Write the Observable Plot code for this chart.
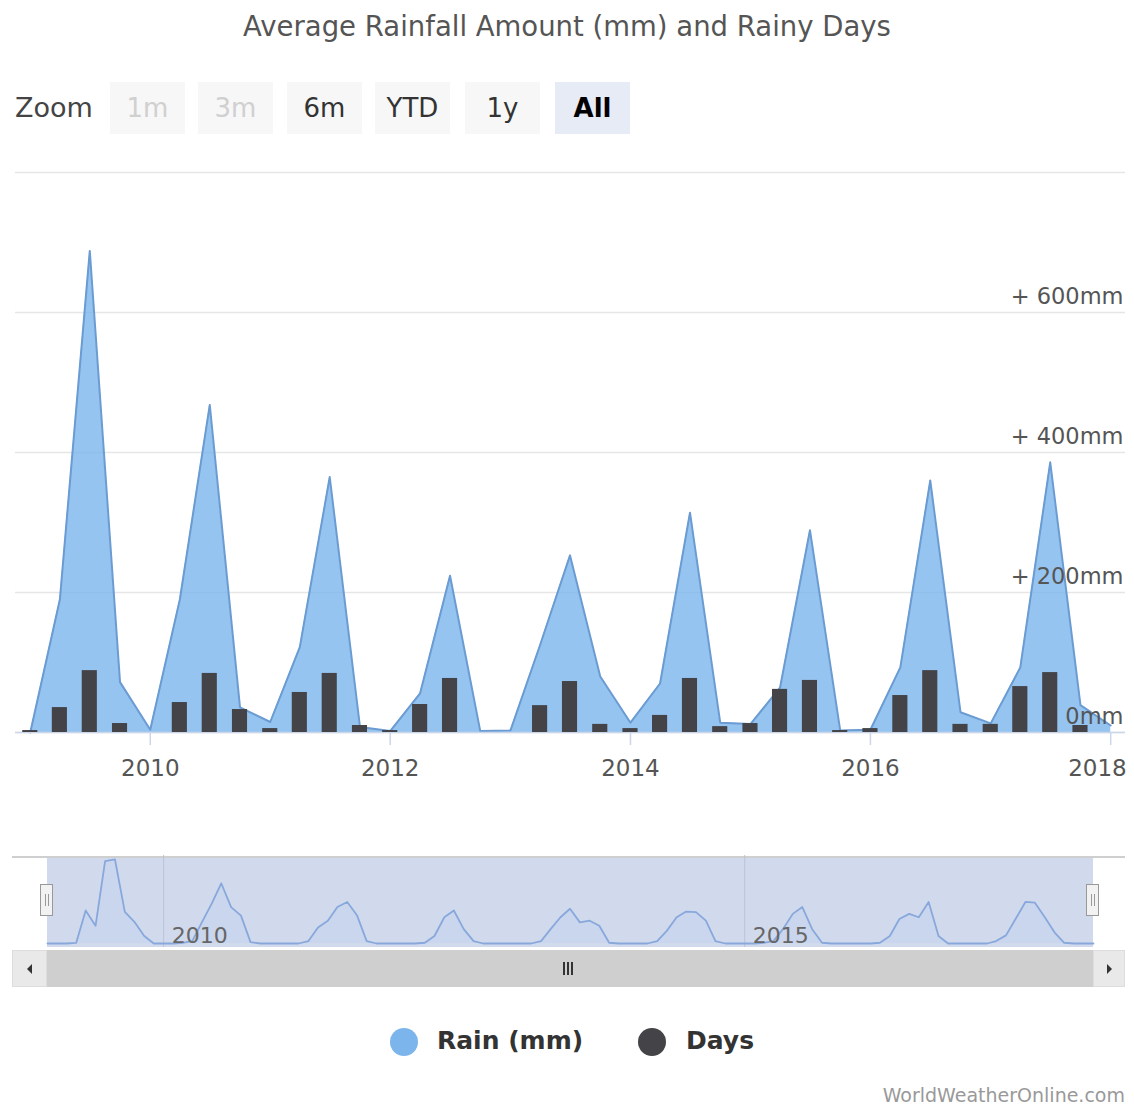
<!DOCTYPE html>
<html>
<head>
<meta charset="utf-8">
<script src="https://cdn.jsdelivr.net/npm/d3@7"></script>
<script src="https://cdn.jsdelivr.net/npm/@observablehq/plot@0.6"></script>
<style>
  html, body { margin: 0; padding: 0; background: #fff; }
  body { font-family: "DejaVu Sans", sans-serif; }
  #root { position: relative; width: 1134px; height: 1108px; overflow: hidden; background: #fff; }
  .abs { position: absolute; }
  #title { left: 0; width: 1134px; top: 10px; text-align: center; font-size: 27.5px; color: #555; white-space: nowrap; }
  #zoomLabel { left: 15px; top: 92px; font-size: 27px; color: #444; }
  .btn { top: 82px; width: 75px; height: 52px; line-height: 52px; text-align: center; font-size: 26px; background: #f7f7f7; color: #333; }
  .btn.disabled { color: #d0d0d0; }
  .btn.active { background: #e6ebf5; color: #000; font-weight: bold; }
  .legend-dot { width: 28px; height: 28px; border-radius: 50%; }
  .legend-text { font-size: 25px; font-weight: bold; color: #333; top: 1026px; }
  #credit { right: 9px; top: 1084px; font-size: 19px; color: #999; }
  svg { position: absolute; }
</style>
</head>
<body>
<div id="root"></div>
<script>
// ---------------- data ----------------
const quarters = [
  "2009-01-01","2009-04-01","2009-07-01","2009-10-01",
  "2010-01-01","2010-04-01","2010-07-01","2010-10-01",
  "2011-01-01","2011-04-01","2011-07-01","2011-10-01",
  "2012-01-01","2012-04-01","2012-07-01","2012-10-01",
  "2013-01-01","2013-04-01","2013-07-01","2013-10-01",
  "2014-01-01","2014-04-01","2014-07-01","2014-10-01",
  "2015-01-01","2015-04-01","2015-07-01","2015-10-01",
  "2016-01-01","2016-04-01","2016-07-01","2016-10-01",
  "2017-01-01","2017-04-01","2017-07-01","2017-10-01",
  "2018-01-01"
];
const rainMm = [
  0, 190, 688, 72,
  4, 190, 468, 36,
  15, 122, 365, 8,
  2, 56, 224, 2,
  3, 125, 253, 80,
  14, 70, 314, 14,
  12, 64, 289, 3,
  4, 93, 360, 29,
  13, 93, 386, 39,
  10
];
const rainyDays = [
  0.7, 8.9, 22.1, 3.2,
  0, 10.7, 21.1, 8.2,
  1.4, 14.3, 21.1, 2.5,
  0.7, 10.0, 19.3, 0,
  0, 9.6, 18.2, 2.9,
  1.4, 6.1, 19.3, 2.1,
  3.2, 15.4, 18.6, 0.7,
  1.4, 13.2, 22.1, 2.9,
  2.9, 16.4, 21.4, 2.5,
  0
];
// navigator: monthly series from Jan 2009 to Jan 2018
const navStartMonth = "2009-01-01";
const navRainMm = [
  0, 0, 0, 5, 272, 146, 678, 692, 260, 179, 62, 0,
  0, 0, 6, 20, 174, 328, 496, 300, 230, 11, 0, 0,
  0, 0, 0, 20, 132, 188, 300, 342, 230, 20, 0, 0,
  0, 0, 0, 6, 62, 216, 272, 118, 20, 0, 0, 0,
  0, 0, 0, 20, 118, 216, 286, 174, 188, 146, 6, 0,
  0, 0, 0, 20, 104, 216, 263, 258, 188, 20, 0, 0,
  0, 0, 6, 20, 118, 244, 300, 118, 6, 0, 0, 0,
  0, 0, 6, 62, 202, 244, 216, 342, 62, 0, 0, 0,
  0, 0, 20, 67, 202, 342, 336, 216, 90, 6, 0, 0,
  0
];
const yTickValues = [0, 200, 400, 600];
const yTickLabels = ["0mm", "+ 200mm", "+ 400mm", "+ 600mm"];
const yGridValues = [0, 200, 400, 600, 800];
const xTickYears = [2010, 2012, 2014, 2016, 2018];
const navTickYears = [2010, 2015];
const zoomButtons = ["1m", "3m", "6m", "YTD", "1y", "All"];
const zoomButtonState = ["disabled", "disabled", "", "", "", "active"];
const legendNames = ["Rain (mm)", "Days"];
const legendColors = ["#7cb5ec", "#434348"];
const titleText = "Average Rainfall Amount (mm) and Rainy Days";
const creditText = "WorldWeatherOnline.com";

// ---------------- build ----------------
const root = document.getElementById("root");
const mainData = quarters.map((q, i) => ({date: new Date(q), rain: rainMm[i], days: rainyDays[i]}));
const navStart = new Date(navStartMonth);
const navData = navRainMm.map((v, i) => ({date: d3.utcMonth.offset(navStart, i), rain: v}));
const xDomain = [new Date("2008-11-17"), new Date("2018-02-15")];
const fontFamily = '"DejaVu Sans", sans-serif';
const yearDate = y => new Date(Date.UTC(y, 0, 1));
const xTickDates = xTickYears.map(yearDate);

function addDiv(cls, css, text) {
  const d = document.createElement("div");
  d.className = "abs " + (cls || "");
  Object.assign(d.style, css || {});
  if (text != null) d.textContent = text;
  root.appendChild(d);
  return d;
}

// title + zoom buttons
addDiv("", {}, titleText).id = "title";
addDiv("", {}, "Zoom").id = "zoomLabel";
const btnLefts = [110, 198, 287, 375, 465, 555];
zoomButtons.forEach((b, i) => addDiv("btn " + zoomButtonState[i], {left: btnLefts[i] + "px"}, b));

// main chart
const W = 1134, H = 650, TOP = 150;
const common = {
  width: W, height: H, marginTop: 22, marginBottom: 68, marginLeft: 15, marginRight: 9,
  style: {fontFamily, background: "transparent", overflow: "visible"}
};
const labelStyle = {frameAnchor: "bottom", lineAnchor: "top", dy: 27, fill: "#555", fontSize: 23};
const mainPlot = Plot.plot({
  ...common,
  y: {domain: [0, 800], axis: null},
  x: {type: "utc", domain: xDomain, axis: null},
  marks: [
    Plot.gridY(yGridValues, {stroke: "#e6e6e6", strokeOpacity: 1, strokeWidth: 1.5}),
    Plot.areaY(mainData, {x: "date", y: "rain", fill: "#7cb5ec", fillOpacity: 0.8}),
    Plot.lineY(mainData, {x: "date", y: "rain", stroke: "#6a9bd2", strokeWidth: 2}),
    Plot.ruleY([0], {stroke: "#ccd6eb", strokeWidth: 1.5}),
    Plot.ruleX(xTickDates, {x: d => d, y1: 0, y2: 0, insetBottom: -13, stroke: "#ccd6eb", strokeWidth: 1.5}),
    Plot.text(xTickDates.slice(0, -1), {x: d => d, text: d => d3.utcFormat("%Y")(d), ...labelStyle}),
    Plot.text(xTickDates.slice(-1), {x: d => d, text: d => d3.utcFormat("%Y")(d), textAnchor: "end", dx: 16, ...labelStyle}),
    Plot.text(yTickValues, {
      y: d => d, frameAnchor: "right", text: (d, i) => yTickLabels[i],
      textAnchor: "end", dy: -16, dx: -2, fill: "#555", fontSize: 22.5
    })
  ]
});
mainPlot.style.left = "0px"; mainPlot.style.top = TOP + "px";
root.appendChild(mainPlot);

const daysPlot = Plot.plot({
  ...common,
  y: {domain: [0, 200], axis: null},
  x: {type: "utc", domain: xDomain, axis: null},
  marks: [
    Plot.rectY(mainData, {
      x1: d => d3.utcDay.offset(d.date, -23), x2: d => d3.utcDay.offset(d.date, 23),
      y: "days", fill: "#434348"
    })
  ]
});
daysPlot.style.left = "0px"; daysPlot.style.top = TOP + "px";
root.appendChild(daysPlot);

// navigator
addDiv("", {left: "12px", width: "1113px", top: "856px", height: "0px", borderTop: "2px solid #cfcfcf"});
addDiv("", {left: "47px", width: "1046px", top: "858px", height: "89px", background: "#d1daed"});
const navTickDates = navTickYears.map(yearDate);
const navPlot = Plot.plot({
  width: W, height: 92, marginTop: 3, marginBottom: 4, marginLeft: 47, marginRight: 41,
  x: {type: "utc", domain: [navData[0].date, navData[navData.length - 1].date], axis: null},
  y: {domain: [0, 700], axis: null},
  style: {fontFamily, background: "transparent", overflow: "visible"},
  marks: [
    Plot.ruleX(navTickDates, {stroke: "#b9c2d6", strokeWidth: 1, insetTop: -3, insetBottom: -4}),
    Plot.areaY(navData, {x: "date", y: "rain", fill: "#7cb5ec", fillOpacity: 0.08}),
    Plot.lineY(navData, {x: "date", y: "rain", stroke: "#88a8dc", strokeWidth: 1.8}),
    Plot.text(navTickDates, {
      x: d => d, frameAnchor: "bottom", text: d => String(d.getUTCFullYear()),
      textAnchor: "start", lineAnchor: "bottom", dx: 8, dy: -1, fill: "#666", fontSize: 22
    })
  ]
});
navPlot.style.left = "0px"; navPlot.style.top = "855px";
root.appendChild(navPlot);

// navigator handles
[47, 1093].forEach(cx => {
  const h = addDiv("", {left: (cx - 7) + "px", top: "884px", width: "13px", height: "32px",
    background: "#f2f2f2", border: "1px solid #999", boxSizing: "border-box"});
  [4, 7].forEach(lx => {
    const l = document.createElement("div");
    Object.assign(l.style, {position: "absolute", left: lx + "px", top: "9px", width: "1px", height: "12px", background: "#999"});
    h.appendChild(l);
  });
});

// scrollbar
addDiv("", {left: "12px", width: "1113px", top: "950px", height: "37px", background: "#f2f2f2"});
addDiv("", {left: "12px", width: "35px", top: "950px", height: "37px", background: "#e9e9e9", border: "1px solid #ddd", boxSizing: "border-box"});
addDiv("", {left: "1093px", width: "32px", top: "950px", height: "37px", background: "#e9e9e9", border: "1px solid #ddd", boxSizing: "border-box"});
addDiv("", {left: "47px", width: "1046px", top: "950px", height: "37px", background: "#cfcfcf"});
[-4, 0, 4].forEach(dx => addDiv("", {left: (567 + dx) + "px", top: "962px", width: "2px", height: "13px", background: "#333"}));
addDiv("", {left: "27px", top: "964px", width: "0", height: "0", borderTop: "5px solid transparent", borderBottom: "5px solid transparent", borderRight: "5px solid #333"});
addDiv("", {left: "1107px", top: "964px", width: "0", height: "0", borderTop: "5px solid transparent", borderBottom: "5px solid transparent", borderLeft: "5px solid #333"});

// legend
const dotX = [390, 638], textX = [437, 686];
legendNames.forEach((n, i) => {
  addDiv("legend-dot", {left: dotX[i] + "px", top: "1028px", background: legendColors[i]});
  addDiv("legend-text", {left: textX[i] + "px"}, n);
});

// credit
addDiv("", {}, creditText).id = "credit";
</script>
</body>
</html>
